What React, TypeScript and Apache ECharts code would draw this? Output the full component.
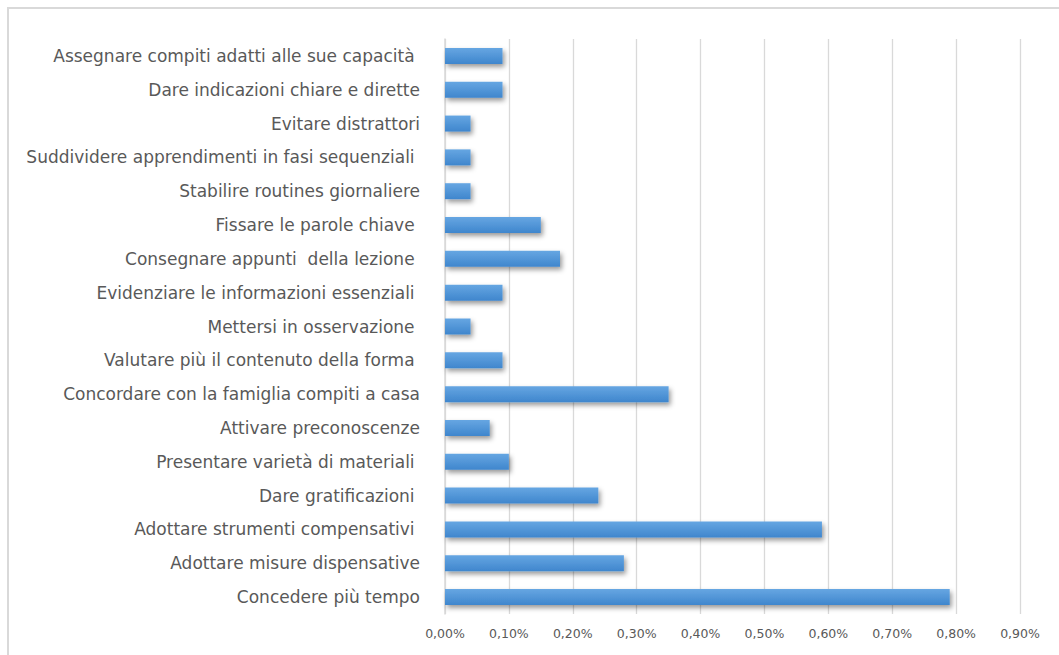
import React, { useEffect, useRef } from "react";
import * as echarts from "echarts";

const categories = [
  "Concedere più tempo",
  "Adottare misure dispensative",
  "Adottare strumenti compensativi ",
  "Dare gratificazioni ",
  "Presentare varietà di materiali ",
  "Attivare preconoscenze",
  "Concordare con la famiglia compiti a casa",
  "Valutare più il contenuto della forma ",
  "Mettersi in osservazione ",
  "Evidenziare le informazioni essenziali ",
  "Consegnare appunti  della lezione ",
  "Fissare le parole chiave ",
  "Stabilire routines giornaliere",
  "Suddividere apprendimenti in fasi sequenziali ",
  "Evitare distrattori",
  "Dare indicazioni chiare e dirette",
  "Assegnare compiti adatti alle sue capacità ",
];

const values = [0.79, 0.28, 0.59, 0.24, 0.1, 0.07, 0.35, 0.09, 0.04, 0.09, 0.18, 0.15, 0.04, 0.04, 0.04, 0.09, 0.09];

const axisMax = 0.9;
const axisInterval = 0.1;

export default function App() {
  const ref = useRef<HTMLDivElement>(null);
  useEffect(() => {
    if (!ref.current) return;
    const chart = echarts.init(ref.current, undefined, { renderer: "svg" });
    chart.setOption({
      animation: false,
      backgroundColor: "#ffffff",
      graphic: [
        {
          type: "rect",
          shape: { x: 8, y: 8, width: 1200, height: 1200 },
          style: { fill: "none", stroke: "#d9d9d9", lineWidth: 2 },
          silent: true,
        },
      ],
      grid: { left: 445, right: 39, top: 39, bottom: 41, containLabel: false },
      xAxis: {
        type: "value",
        min: 0,
        max: axisMax,
        interval: axisInterval,
        axisLine: { show: false },
        axisTick: { show: false },
        splitLine: { lineStyle: { color: "#d9d9d9", width: 1.3 } },
        axisLabel: {
          color: "#595959",
          fontFamily: "DejaVu Sans",
          fontSize: 12.5,
          margin: 13,
          formatter: (v: number) => v.toFixed(2).replace(".", ",") + "%",
        },
      },
      yAxis: {
        type: "category",
        data: categories,
        axisLine: { show: true, lineStyle: { color: "#d9d9d9", width: 1.5 } },
        axisTick: { show: false },
        axisLabel: {
          color: "#595959",
          fontFamily: "DejaVu Sans",
          fontSize: 17,
          margin: 25,
        },
      },
      series: [
        {
          type: "bar",
          data: values,
          barWidth: 16,
          itemStyle: {
            color: new echarts.graphic.LinearGradient(0, 0, 0, 1, [
              { offset: 0, color: "#66a6e2" },
              { offset: 1, color: "#3f86cd" },
            ]),
            shadowColor: "rgba(0,0,0,0.4)",
            shadowBlur: 5,
            shadowOffsetX: 2,
            shadowOffsetY: 3,
          },
        },
      ],
    });
    return () => chart.dispose();
  }, []);
  return (
    <div
      ref={ref}
      style={{ position: "fixed", left: 0, top: 0, width: 1059, height: 655 }}
    />
  );
}
